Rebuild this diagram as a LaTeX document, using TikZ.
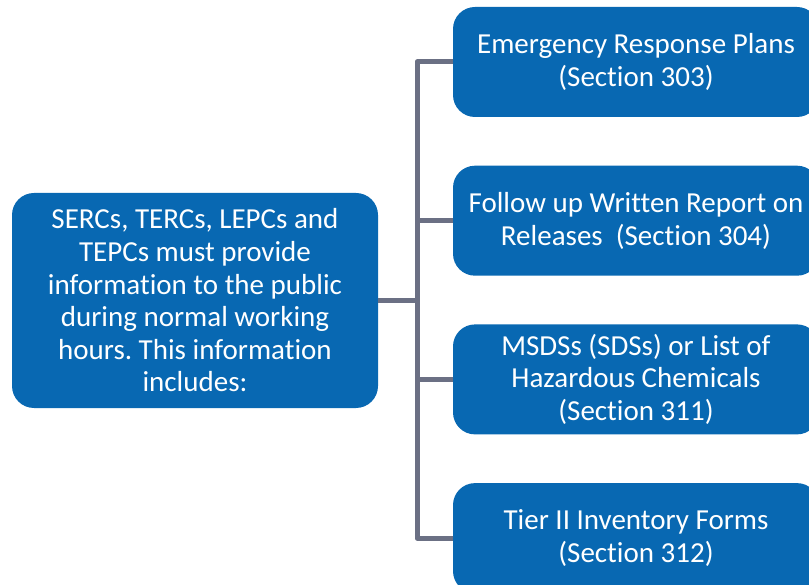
\documentclass[tikz,border=0pt]{standalone}
\usepackage{fontspec}
\setmainfont{Carlito}[Ligatures=NoCommon]
\usetikzlibrary{positioning}

\definecolor{boxblue}{HTML}{0868B2}
\definecolor{linkgray}{HTML}{6B7084}

\begin{document}
\frenchspacing
\begin{tikzpicture}[x=1pt,y=-1pt,node distance=158.7pt,on grid,node font=\fontsize{29}{32.6}\selectfont]
	\tikzstyle{topic}=[rectangle,rounded corners=22pt,fill=boxblue,text=white,align=center,inner sep=0pt]
	\tikzstyle{item}=[topic,minimum width=366pt,minimum height=110pt]
	\tikzstyle{link}=[draw=linkgray,line width=5pt,line join=round]

	\clip (0,0) rectangle (809,585);

	\node[topic,minimum width=366pt,minimum height=215pt] (info) at (195,300.5) {SERCs, TERCs, LEPCs and\\TEPCs must provide\\information to the public\\during normal working\\hours. This information\\includes:};
	\node[item] (erp) at (636,62) {Emergency Response Plans\\(Section 303)};
	\node[item] (rel) [below=of erp] {Follow up Written Report on\\Releases\ \ (Section 304)};
	\node[item] (msds) [below=of rel] {MSDSs (SDSs) or List of\\Hazardous Chemicals\\(Section 311)};
	\node[item] (tier) [below=of msds] {Tier II Inventory Forms\\(Section 312)};

	\coordinate (hub) at (417,300.5);

	\path[link] (info.east) -- (hub);
	\path[link] (erp.west) -| (hub) |- (tier.west);
	\path[link] (hub) |- (rel.west);
	\path[link] (hub) |- (msds.west);
\end{tikzpicture}
\end{document}
